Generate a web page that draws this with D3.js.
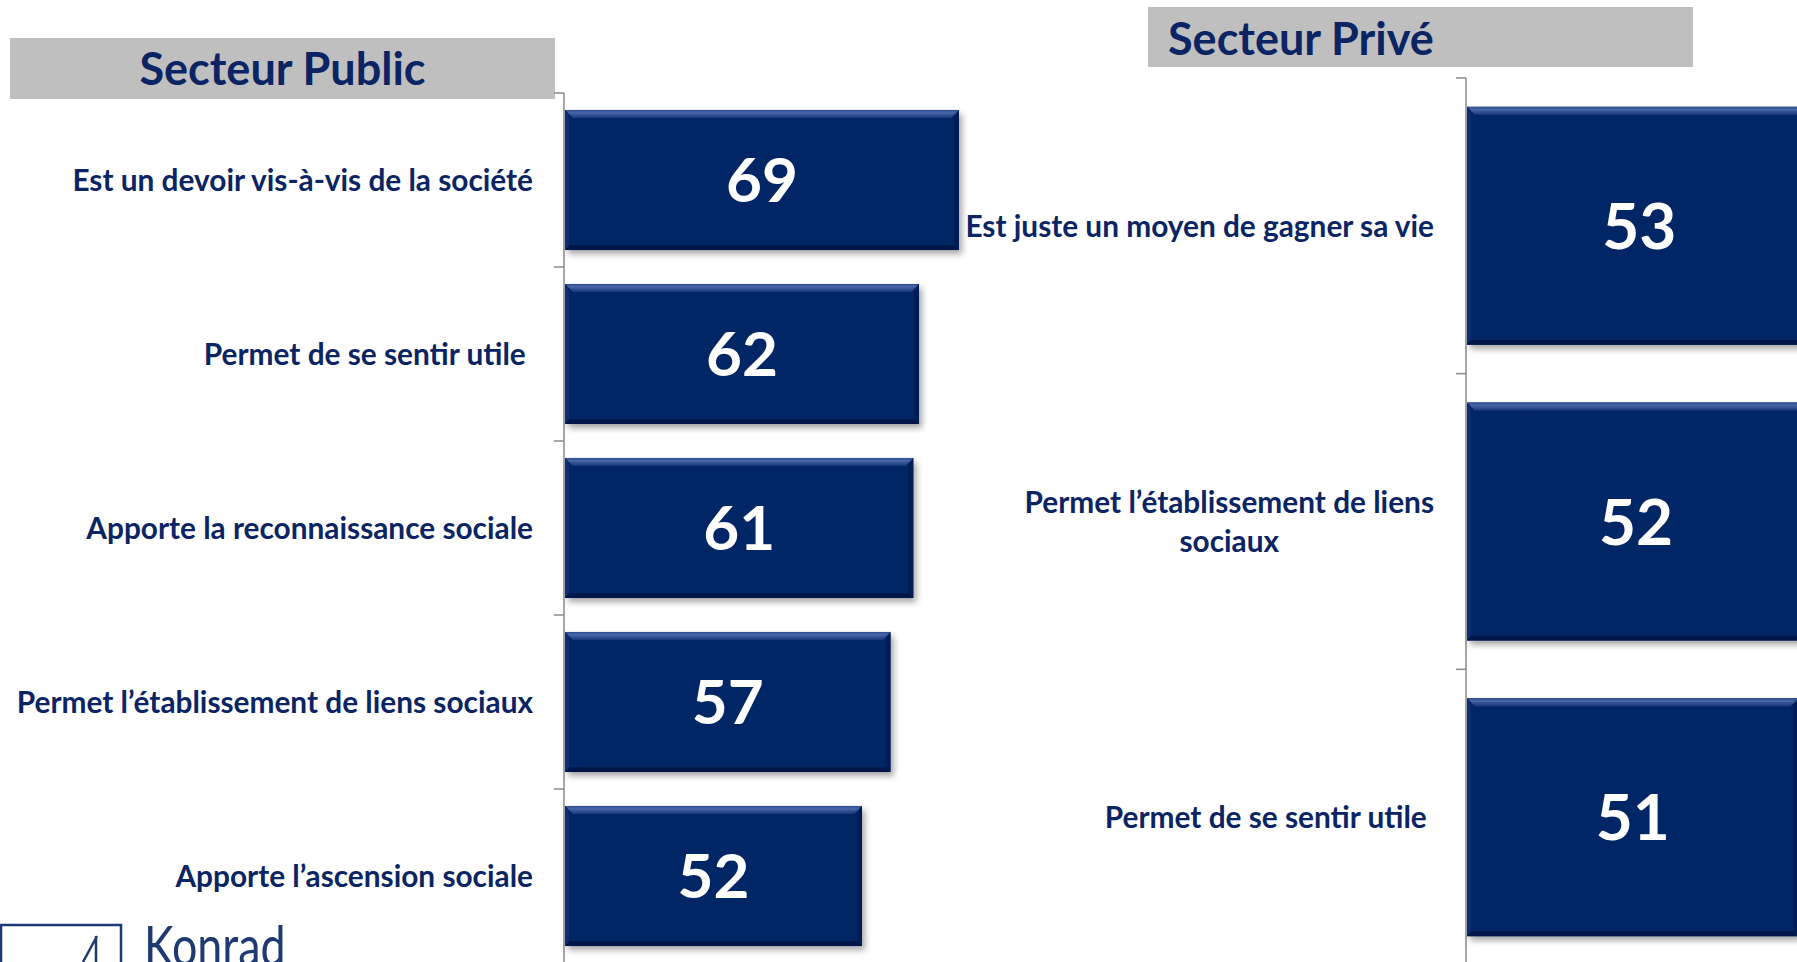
<!DOCTYPE html>
<html>
<head>
<meta charset="utf-8">
<script src="https://cdn.jsdelivr.net/npm/d3@7"></script>
<style>
  html, body { margin: 0; padding: 0; background: #ffffff; }
  svg { display: block; }
  text { font-family: Lato, "Open Sans", "Noto Sans", sans-serif; }
</style>
</head>
<body>
<svg id="chart" width="1797" height="962"></svg>
<script>
// ---------- data ----------
const panelTitles = ["Secteur Public", "Secteur Privé"];
const publicCategories = [
  "Est un devoir vis-à-vis de la société",
  "Permet de se sentir utile ",
  "Apporte la reconnaissance sociale",
  "Permet l’établissement de liens sociaux",
  "Apporte l’ascension sociale"
];
const publicValues = [69, 62, 61, 57, 52];
const privateCategories = [
  "Est juste un moyen de gagner sa vie",
  "Permet l’établissement de liens sociaux",
  "Permet de se sentir utile "
];
const privateValues = [53, 52, 51];
const logoText = "Konrad";

// ---------- styles ----------
const NAVY = "#0b2463";
const BAR = "#062566";
const GREY_BOX = "#bfbfbf";
const AXIS = "#8a8a8a";

const svg = d3.select("#chart");
const defs = svg.append("defs");

const shadow = defs.append("filter").attr("id", "shadow")
  .attr("x", "-5%").attr("y", "-5%").attr("width", "115%").attr("height", "125%");
shadow.append("feDropShadow").attr("dx", 3).attr("dy", 4).attr("stdDeviation", 3)
  .attr("flood-color", "#000").attr("flood-opacity", 0.35);

const topGrad = defs.append("linearGradient").attr("id", "bevelTop")
  .attr("x1", 0).attr("y1", 0).attr("x2", 0).attr("y2", 1);
topGrad.append("stop").attr("offset", "0%").attr("stop-color", "#2c4c8e");
topGrad.append("stop").attr("offset", "35%").attr("stop-color", "#4767a6");
topGrad.append("stop").attr("offset", "100%").attr("stop-color", "#16367a");

function wrapLines(text, maxW, measureEl) {
  const words = text.split(" ");
  const lines = [];
  let cur = "";
  words.forEach(w => {
    const test = cur === "" ? w : cur + " " + w;
    measureEl.text(test);
    if (measureEl.node().getComputedTextLength() > maxW && cur !== "") {
      lines.push(cur);
      cur = w;
    } else {
      cur = test;
    }
  });
  lines.push(cur);
  return lines;
}

function drawPanel(cfg) {
  const g = svg.append("g");

  // header box
  g.append("rect")
    .attr("x", cfg.box.x).attr("y", cfg.box.y)
    .attr("width", cfg.box.w).attr("height", cfg.box.h)
    .attr("fill", GREY_BOX);
  g.append("text")
    .attr("x", cfg.titleAlign === "middle" ? cfg.box.x + cfg.box.w / 2 : cfg.box.x + 20)
    .attr("y", cfg.box.y + cfg.box.h / 2 + cfg.titleShift)
    .attr("dy", "0.36em")
    .attr("text-anchor", cfg.titleAlign)
    .attr("font-size", 45).attr("font-weight", 700)
    .attr("fill", NAVY)
    .text(cfg.title);

  const y = d3.scaleBand().domain(cfg.cats)
    .range([cfg.yTop, cfg.yBottom])
    .paddingInner(0.195).paddingOuter(0.0975);
  const x = d3.scaleLinear().domain([0, 100]).range([cfg.x0, cfg.x0 + cfg.w100]);

  // axis line + ticks between categories
  g.append("line")
    .attr("x1", cfg.x0 - 1).attr("x2", cfg.x0 - 1)
    .attr("y1", cfg.yTop).attr("y2", cfg.yBottom)
    .attr("stroke", AXIS).attr("stroke-width", 1.5);
  const edges = d3.range(cfg.cats.length + 1).map(i => cfg.yTop + i * y.step());
  g.selectAll(".tick").data(edges).join("line")
    .attr("x1", cfg.x0 - 11).attr("x2", cfg.x0 - 1)
    .attr("y1", d => d).attr("y2", d => d)
    .attr("stroke", AXIS).attr("stroke-width", 1.5);

  // bars
  const b = 8;
  const bars = g.selectAll(".bar").data(cfg.cats.map((c, i) => ({ c, v: cfg.vals[i] })))
    .join("g").attr("filter", "url(#shadow)");
  bars.each(function (d) {
    const sel = d3.select(this);
    const x0 = x(0), x1 = x(d.v), y0 = y(d.c), y1 = y(d.c) + y.bandwidth();
    sel.append("rect").attr("x", x0).attr("y", y0)
      .attr("width", x1 - x0).attr("height", y1 - y0).attr("fill", BAR);
    const pts = a => a.map(p => p.join(",")).join(" ");
    sel.append("polygon").attr("points", pts([[x0, y0], [x1, y0], [x1 - b, y0 + b], [x0 + b, y0 + b]]))
      .attr("fill", "url(#bevelTop)");
    sel.append("polygon").attr("points", pts([[x0, y0], [x0 + b * 0.5, y0 + b], [x0 + b * 0.5, y1 - b * 0.6], [x0, y1]]))
      .attr("fill", "#0f2f73");
    sel.append("polygon").attr("points", pts([[x1, y0], [x1 - b * 0.6, y0 + b], [x1 - b * 0.6, y1 - b * 0.6], [x1, y1]]))
      .attr("fill", "#041c54");
    sel.append("polygon").attr("points", pts([[x0, y1], [x1, y1], [x1 - b * 0.6, y1 - b * 0.6], [x0 + b * 0.5, y1 - b * 0.6]]))
      .attr("fill", "#03194a");
    sel.append("text")
      .attr("x", (x0 + x1) / 2).attr("y", (y0 + y1) / 2)
      .attr("dy", "0.36em").attr("text-anchor", "middle")
      .attr("font-size", cfg.valueSize).attr("font-weight", 700)
      .attr("fill", "#ffffff")
      .text(d.v);
  });

  // category labels (wrapped, block right-aligned, lines centered)
  const measure = g.append("text").attr("font-size", cfg.labelSize).attr("font-weight", 700)
    .style("white-space", "pre").attr("visibility", "hidden");
  const lineH = cfg.labelSize * 1.3;
  cfg.cats.forEach(c => {
    const lines = wrapLines(c, cfg.wrapW, measure);
    const widths = lines.map(l => { measure.text(l); return measure.node().getComputedTextLength(); });
    const blockW = d3.max(widths);
    const cx = cfg.labelRight - blockW / 2;
    const cy = y(c) + y.bandwidth() / 2;
    const t = g.append("text")
      .attr("font-size", cfg.labelSize).attr("font-weight", 700)
      .attr("fill", NAVY).attr("text-anchor", "middle")
      .style("white-space", "pre");
    lines.forEach((l, i) => {
      t.append("tspan").attr("x", cx)
        .attr("y", cy + (i - (lines.length - 1) / 2) * lineH)
        .attr("dy", "0.36em")
        .text(l);
    });
  });
  measure.remove();
}

drawPanel({
  title: panelTitles[0], titleAlign: "middle", titleShift: 0,
  box: { x: 10, y: 38, w: 545, h: 61 },
  cats: publicCategories, vals: publicValues,
  yTop: 93, yBottom: 963, x0: 565, w100: 571,
  labelRight: 533, labelSize: 29.8, wrapW: 660, valueSize: 62
});

drawPanel({
  title: panelTitles[1], titleAlign: "start", titleShift: 2,
  box: { x: 1148, y: 7, w: 545, h: 60 },
  cats: privateCategories, vals: privateValues,
  yTop: 78, yBottom: 965, x0: 1467, w100: 650,
  labelRight: 1434, labelSize: 29.8, wrapW: 495, valueSize: 64
});

// ---------- logo (bottom left, partially cut off as in the source) ----------
const logo = svg.append("g");
logo.append("path")
  .attr("d", "M1,962 L1,925 L121,925 L121,962")
  .attr("fill", "none").attr("stroke", "#1f3a73").attr("stroke-width", 2.5);
logo.append("path")
  .attr("d", "M97,936 L83,962 M96,936 L96,962")
  .attr("fill", "none").attr("stroke", "#1f3a73").attr("stroke-width", 2.5);
logo.append("text")
  .attr("transform", "translate(144,966) scale(0.8,1)")
  .attr("font-size", 56).attr("font-weight", 400)
  .attr("fill", "#1f3a73")
  .text(logoText);
</script>
</body>
</html>
